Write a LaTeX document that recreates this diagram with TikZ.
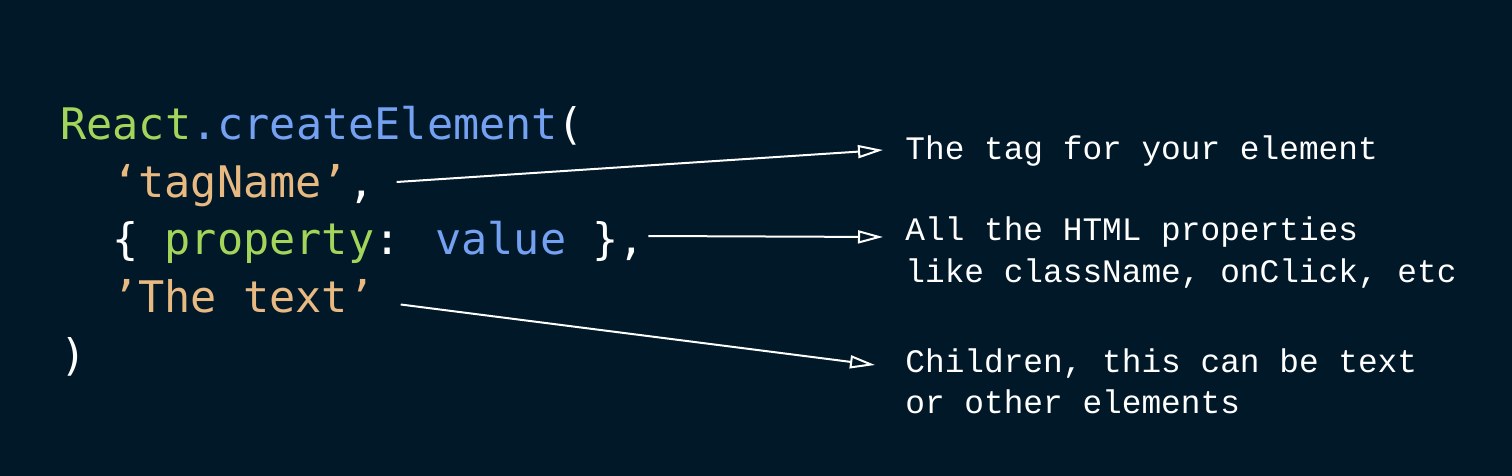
\documentclass[tikz,border=0pt]{standalone}
\usepackage{fontspec}
\newfontfamily\codefont{DejaVu Sans Mono}
\newfontfamily\notefont{Liberation Mono}
\usetikzlibrary{arrows.meta,positioning}

\definecolor{nightbg}{HTML}{011829}
\definecolor{codegreen}{HTML}{A3D55A}
\definecolor{codeblue}{HTML}{74A1F2}
\definecolor{codeorange}{HTML}{E8BA82}

\begin{document}
\begin{tikzpicture}[x=0.5pt,y=-0.5pt,
	code/.style={anchor=base west,inner sep=0,text=white,font=\codefont\fontsize{21.75}{26}\selectfont},
	note/.style={anchor=base west,inner sep=0,text=white,font=\notefont\fontsize{16.4}{20}\selectfont},
	pointer/.style={draw=white,line width=1pt,-{Triangle[open,length=12.5pt,width=6.5pt]}}]
	% Hintergrund
		\fill[nightbg] (0,0) rectangle (1512,476);
	% Code
		\node (call) at (60,140) [code] {\textcolor{codegreen}{React}\textcolor{codeblue}{.createElement}(};
		\node (tag) at (112,198) [code] {\textcolor{codeorange}{‘tagName’},};
		\node (prop) at (112,255) [code] {\{ \textcolor{codegreen}{property}: \textcolor{codeblue}{value} \},};
		\node (kids) at (112,312.5) [code] {\textcolor{codeorange}{’The text’}};
		\node (close) at (60,370) [code] {)};
	% Erklaerungen
		\node (tagnote) at (905,160) [note] {The tag for your element};
		\node (propnote) at (905,241) [note] {All the HTML properties};
		\node (propnote2) at (905,283) [note] {like className, onClick, etc};
		\node (kidsnote) at (905,372) [note] {Children, this can be text};
		\node (kidsnote2) at (905,413) [note] {or other elements};
	% Pfeile
		\draw[pointer] ([shift={(22,-16)}]tag.base east) -- ([shift={(-22,-10)}]tagnote.base west);
		\draw[pointer] ([shift={(3,-19)}]prop.base east) -- ([shift={(-22,-4)}]propnote.base west);
		\draw[pointer] ([shift={(26,-8)}]kids.base east) -- ([shift={(-30,-7)}]kidsnote.base west);
\end{tikzpicture}
\end{document}
